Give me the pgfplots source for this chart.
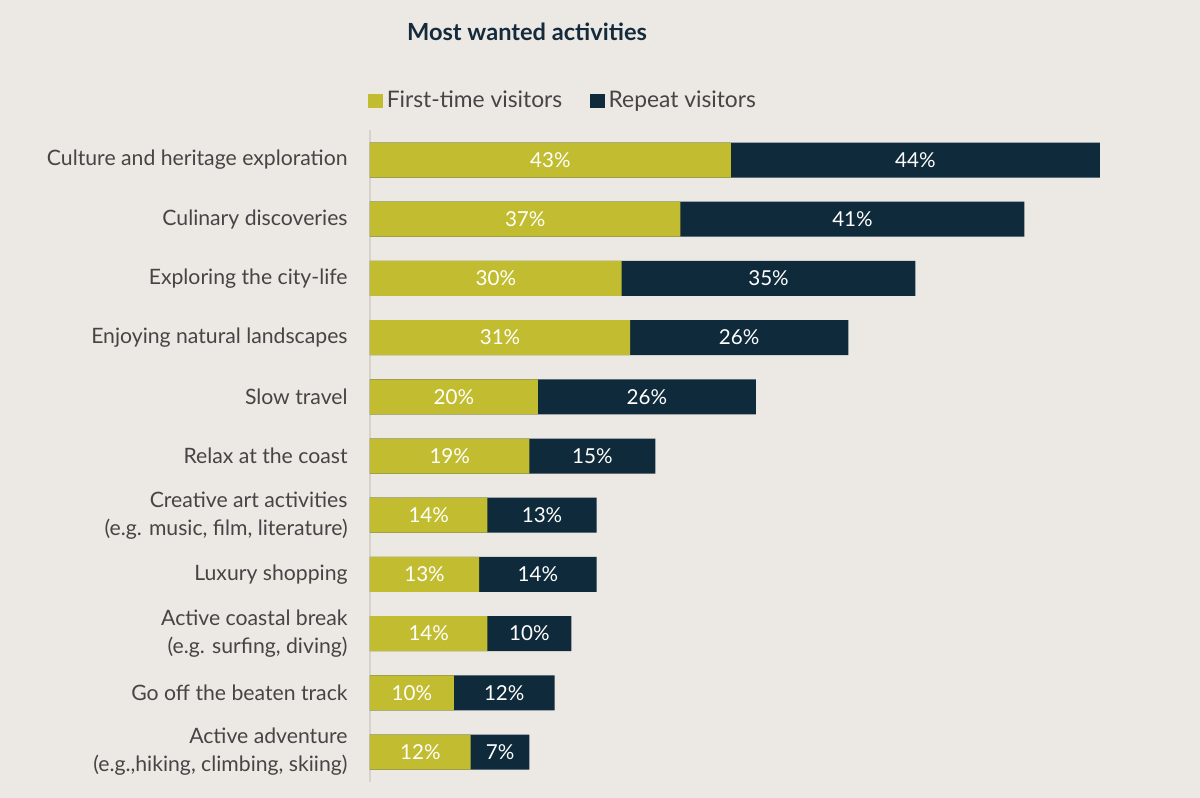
\documentclass[border=0pt]{standalone}
\usepackage{pgfplots}
\pgfplotsset{compat=1.18}
\usepackage{pgfplotstable}
\usepackage{fontspec}
\setmainfont{Lato}
\definecolor{bg}{HTML}{ECE9E4}
\definecolor{olivec}{HTML}{C2BD30}
\definecolor{navyc}{HTML}{0F2A3B}
\definecolor{txt}{HTML}{454545}
\definecolor{ttl}{HTML}{152B3C}
\definecolor{axl}{HTML}{D6D2CC}

\pgfplotstableread{
idx first repeat
0 43 44
1 37 41
2 30 35
3 31 26
4 20 26
5 19 15
6 14 13
7 13 14
8 14 10
9 10 12
10 12 7
}\data

\begin{document}
\begin{tikzpicture}[x=1pt,y=1pt]
\fill[bg] (0,0) rectangle (600,399);
\useasboundingbox (0,0) rectangle (600,399);
\node[font=\bfseries\fontsize{11.8}{14}\selectfont, text=ttl] at (263.5,383) {Most wanted activities};
\begin{axis}[
  at={(185pt,8.2pt)}, anchor=south west,
  scale only axis, width=365pt, height=325.6pt,
  xmin=0, xmax=87, ymin=-0.5, ymax=10.5, y dir=reverse,
  axis x line=none, axis y line*=left,
  y axis line style={draw=axl, line width=0.6pt, -},
  /pgf/number format/assume math mode=true,
  ytick={0,...,10},
  yticklabels={
    Culture and heritage exploration,
    Culinary discoveries,
    Exploring the city-life,
    Enjoying natural landscapes,
    Slow travel,
    Relax at the coast,
    {Creative art activities\\(e.g. music, film, literature)},
    Luxury shopping,
    {Active coastal break\\(e.g. surfing, diving)},
    Go off the beaten track,
    {Active adventure\\(e.g.,hiking, climbing, skiing)}
  },
  major tick length=0pt,
  yticklabel style={align=right, inner sep=0pt, xshift=-11pt, text=txt,
    font=\fontsize{10.6}{14}\selectfont},
  legend style={at={(0.266,1.045)}, anchor=center, draw=none, fill=none,
    legend columns=2, font=\fontsize{11.4}{13}\selectfont, text=txt,
    /tikz/every even column/.append style={column sep=12pt},
    legend cell align=left,
    nodes={inner sep=2pt},
    legend image code/.code={\fill[draw=none,##1] (0pt,-3.6pt) rectangle (7.2pt,3.6pt);}},
  clip=false,
]
\addlegendimage{fill=olivec, draw=none}
\addlegendentry{First-time visitors}
\addlegendimage{fill=navyc, draw=none}
\addlegendentry{Repeat visitors}
\addplot[xbar, bar width=17.5pt, bar shift=0pt, fill=navyc, draw=none, forget plot]
  table[x expr=\thisrow{first}+\thisrow{repeat}, y=idx]{\data};
\addplot[xbar, bar width=17.5pt, bar shift=0pt, fill=olivec, draw=none, forget plot]
  table[x=first, y=idx]{\data};
\addplot[draw=none, mark=none, forget plot, point meta=explicit,
  nodes near coords={\pgfmathprintnumber{\pgfplotspointmeta}\%},
  nodes near coords style={anchor=center, text=white, font=\fontsize{10.3}{12}\selectfont}]
  table[x expr=\thisrow{first}/2, y=idx, meta=first]{\data};
\addplot[draw=none, mark=none, forget plot, point meta=explicit,
  nodes near coords={\pgfmathprintnumber{\pgfplotspointmeta}\%},
  nodes near coords style={anchor=center, text=white, font=\fontsize{10.3}{12}\selectfont}]
  table[x expr=\thisrow{first}+\thisrow{repeat}/2, y=idx, meta=repeat]{\data};
\end{axis}
\end{tikzpicture}
\end{document}
